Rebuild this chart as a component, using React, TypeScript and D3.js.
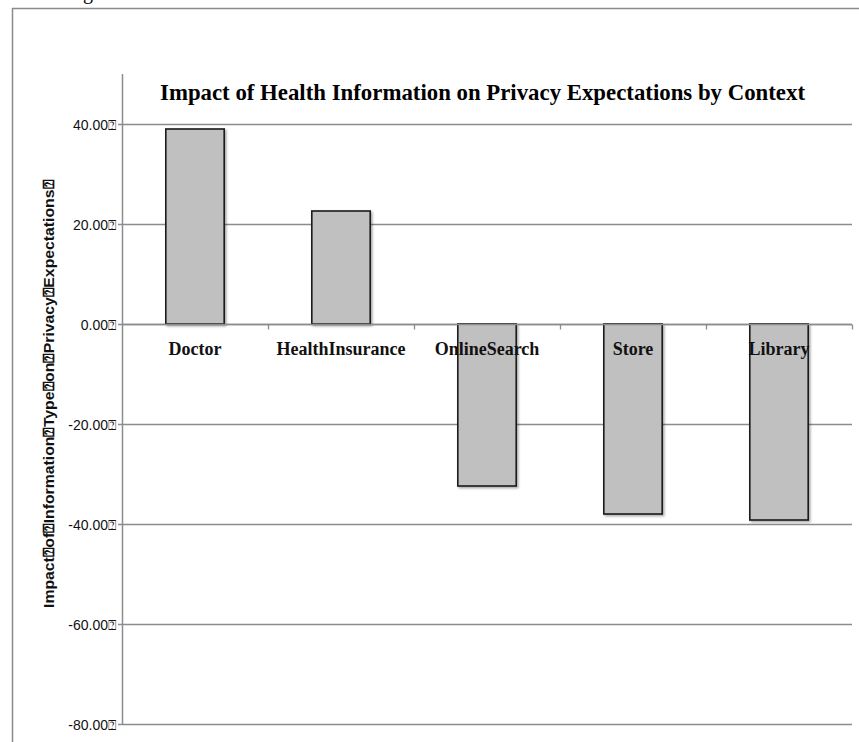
import React, { useEffect, useRef } from "react";
import * as d3 from "d3";

const categories = ["Doctor", "HealthInsurance", "OnlineSearch", "Store", "Library"];
const values = [39.0, 22.6, -32.4, -38.0, -39.2];
const yTicks = [-80, -60, -40, -20, 0, 20, 40];
const titleText = "Impact of Health Information on Privacy Expectations by Context";
const yTitle = "Impact⍰of⍰Information⍰Type⍰on⍰Privacy⍰Expectations⍰";

const W = 859;
const H = 742;

export default function App() {
  const ref = useRef<SVGSVGElement | null>(null);

  useEffect(() => {
    const svg = d3.select(ref.current);
    svg.selectAll("*").remove();

    const left = 122, right = 852, top = 74, bottom = 724;
    const y = d3.scaleLinear().domain([-80, 50]).range([bottom, top]);
    const x = d3.scaleBand<string>().domain(categories).range([left, right]).paddingInner(0.6).paddingOuter(0.3);

    const defs = svg.append("defs");
    const f = defs.append("filter").attr("id", "shadow").attr("x", "-20%").attr("y", "-20%").attr("width", "140%").attr("height", "140%");
    f.append("feDropShadow").attr("dx", 1.5).attr("dy", 1.5).attr("stdDeviation", 1.2).attr("flood-color", "#000").attr("flood-opacity", 0.35);

    // frame
    svg.append("line").attr("x1", 12).attr("x2", W).attr("y1", 8.5).attr("y2", 8.5).attr("stroke", "#8a8a8a").attr("stroke-width", 1.5);
    svg.append("line").attr("x1", 12.5).attr("x2", 12.5).attr("y1", 8).attr("y2", H).attr("stroke", "#8a8a8a").attr("stroke-width", 1.5);

    // cropped text above frame
    svg.append("text").attr("x", 83).attr("y", -1).attr("font-family", "Liberation Serif").attr("font-size", 20).attr("fill", "#000").text("g");

    const fmt = (t: number) => d3.format(".2f")(t).replace("\u2212", "-") + "⍰";

    // gridlines + y ticks
    const g = svg.append("g");
    yTicks.forEach((t) => {
      g.append("line")
        .attr("x1", left - 4).attr("x2", right)
        .attr("y1", Math.round(y(t)) + 0.5).attr("y2", Math.round(y(t)) + 0.5)
        .attr("stroke", "#8c8c8c").attr("stroke-width", 1.3);
      g.append("text")
        .attr("x", 116).attr("y", y(t) + 6)
        .attr("text-anchor", "end")
        .attr("font-family", "Liberation Sans, Arial, sans-serif")
        .attr("font-size", 14)
        .attr("fill", "#111")
        .text(fmt(t));
    });

    // y axis line
    svg.append("line").attr("x1", left + 0.5).attr("x2", left + 0.5).attr("y1", top).attr("y2", bottom + 1)
      .attr("stroke", "#8c8c8c").attr("stroke-width", 1.5);

    // bars
    svg.append("g").selectAll("rect").data(categories).join("rect")
      .attr("x", (d) => x(d)!)
      .attr("width", x.bandwidth())
      .attr("y", (d, i) => y(Math.max(0, values[i])))
      .attr("height", (d, i) => Math.abs(y(values[i]) - y(0)))
      .attr("fill", "#c0c0c0")
      .attr("stroke", "#1a1a1a")
      .attr("stroke-width", 1.6)
      .attr("filter", "url(#shadow)");

    // x axis line and ticks
    const y0 = Math.round(y(0)) + 0.5;
    svg.append("line").attr("x1", left).attr("x2", right).attr("y1", y0).attr("y2", y0)
      .attr("stroke", "#8c8c8c").attr("stroke-width", 1.3);
    categories.forEach((c) => {
      const xt = Math.round(x(c)! + x.bandwidth() + x.step() * 0.3) + 0.5;
      svg.append("line").attr("x1", xt).attr("x2", xt).attr("y1", y0).attr("y2", y0 + 5)
        .attr("stroke", "#8c8c8c").attr("stroke-width", 1.3);
    });

    // category labels
    svg.append("g").selectAll("text").data(categories).join("text")
      .attr("x", (d) => x(d)! + x.bandwidth() / 2)
      .attr("y", 355)
      .attr("text-anchor", "middle")
      .attr("font-family", "Liberation Serif, Times New Roman, serif")
      .attr("font-weight", "bold")
      .attr("font-size", 18)
      .attr("fill", "#111")
      .text((d) => d);

    // title
    svg.append("text")
      .attr("x", 160).attr("y", 100)
      .attr("font-family", "Liberation Serif, Times New Roman, serif")
      .attr("font-weight", "bold")
      .attr("font-size", 24)
      .attr("textLength", 645)
      .attr("lengthAdjust", "spacingAndGlyphs")
      .attr("fill", "#000")
      .text(titleText);

    // y title
    svg.append("text")
      .attr("transform", "translate(54,394) rotate(-90)")
      .attr("text-anchor", "middle")
      .attr("font-family", "Liberation Sans, Arial, sans-serif")
      .attr("font-weight", "bold")
      .attr("font-size", 15)
      .attr("textLength", 428)
      .attr("lengthAdjust", "spacingAndGlyphs")
      .attr("fill", "#111")
      .text(yTitle);
  }, []);

  return (
    <svg
      ref={ref}
      width={W}
      height={H}
      style={{ position: "absolute", left: 0, top: 0, background: "#fff" }}
    />
  );
}
